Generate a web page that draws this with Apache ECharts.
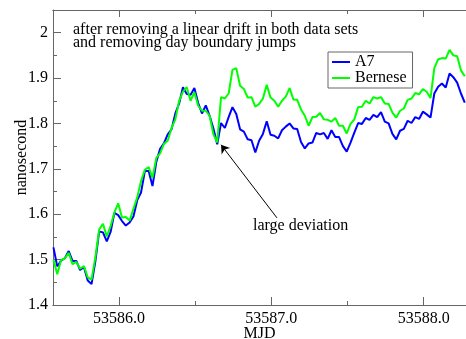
<!DOCTYPE html>
<html>
<head>
<meta charset="utf-8">
<script src="https://cdn.jsdelivr.net/npm/echarts@6/dist/echarts.min.js"></script>
<style>
  html, body { margin: 0; padding: 0; background: #fff; }
  #chart { width: 466px; height: 339px; }
</style>
</head>
<body>
<div id="chart"></div>
<script>
// sample times (MJD)
const mjd = [
  53585.57, 53585.595, 53585.62, 53585.645, 53585.67, 53585.695, 53585.72, 53585.745, 53585.77, 53585.795,
  53585.82, 53585.845, 53585.87, 53585.895, 53585.92, 53585.945, 53585.97, 53585.995, 53586.02, 53586.045,
  53586.07, 53586.095, 53586.12, 53586.145, 53586.17, 53586.195, 53586.22, 53586.245, 53586.27, 53586.295,
  53586.32, 53586.345, 53586.37, 53586.395, 53586.42, 53586.445, 53586.47, 53586.495, 53586.52, 53586.545,
  53586.57, 53586.595, 53586.62, 53586.645, 53586.67, 53586.695, 53586.72, 53586.745, 53586.77, 53586.795,
  53586.82, 53586.845, 53586.87, 53586.895, 53586.92, 53586.945, 53586.97, 53586.995, 53587.02, 53587.045,
  53587.07, 53587.095, 53587.12, 53587.145, 53587.17, 53587.195, 53587.22, 53587.245, 53587.27, 53587.295,
  53587.32, 53587.345, 53587.37, 53587.395, 53587.42, 53587.445, 53587.47, 53587.495, 53587.52, 53587.545,
  53587.57, 53587.595, 53587.62, 53587.645, 53587.67, 53587.695, 53587.72, 53587.745, 53587.77, 53587.795,
  53587.82, 53587.845, 53587.87, 53587.895, 53587.92, 53587.945, 53587.97, 53587.995, 53588.02, 53588.045,
  53588.07, 53588.095, 53588.12, 53588.145, 53588.17, 53588.195, 53588.22, 53588.245, 53588.27
]

// nanosecond, A7
const a7 = [
  1.527, 1.485, 1.498, 1.503, 1.519, 1.497, 1.497, 1.477, 1.484, 1.454,
  1.446, 1.496, 1.562, 1.560, 1.540, 1.561, 1.603, 1.598, 1.585, 1.575,
  1.582, 1.595, 1.631, 1.648, 1.695, 1.695, 1.662, 1.715, 1.744, 1.756,
  1.776, 1.787, 1.822, 1.844, 1.880, 1.865, 1.863, 1.878, 1.845, 1.822,
  1.840, 1.817, 1.789, 1.754, 1.801, 1.790, 1.814, 1.836, 1.821, 1.787,
  1.782, 1.765, 1.763, 1.736, 1.762, 1.777, 1.805, 1.775, 1.773, 1.767,
  1.785, 1.793, 1.800, 1.789, 1.788, 1.759, 1.745, 1.756, 1.758, 1.779,
  1.776, 1.779, 1.766, 1.785, 1.770, 1.770, 1.750, 1.738, 1.758, 1.780,
  1.801, 1.799, 1.812, 1.808, 1.819, 1.814, 1.825, 1.804, 1.800, 1.777,
  1.765, 1.784, 1.788, 1.806, 1.801, 1.814, 1.810, 1.826, 1.820, 1.813,
  1.866, 1.881, 1.888, 1.879, 1.910, 1.902, 1.890, 1.866, 1.846
]

// nanosecond, Bernese
const bernese = [
  1.500, 1.468, 1.499, 1.503, 1.515, 1.490, 1.495, 1.480, 1.486, 1.461,
  1.456, 1.505, 1.566, 1.579, 1.551, 1.574, 1.604, 1.624, 1.593, 1.594,
  1.586, 1.612, 1.637, 1.673, 1.698, 1.704, 1.680, 1.724, 1.734, 1.755,
  1.762, 1.790, 1.809, 1.850, 1.870, 1.880, 1.850, 1.869, 1.839, 1.828,
  1.828, 1.817, 1.776, 1.758, 1.858, 1.855, 1.866, 1.918, 1.922, 1.883,
  1.876, 1.857, 1.858, 1.837, 1.843, 1.855, 1.885, 1.857, 1.850, 1.837,
  1.850, 1.859, 1.878, 1.853, 1.852, 1.831, 1.817, 1.795, 1.814, 1.815,
  1.823, 1.809, 1.808, 1.804, 1.812, 1.795, 1.795, 1.778, 1.799, 1.809,
  1.836, 1.837, 1.850, 1.844, 1.858, 1.855, 1.858, 1.844, 1.843, 1.824,
  1.813, 1.828, 1.833, 1.852, 1.855, 1.867, 1.864, 1.876, 1.870, 1.856,
  1.922, 1.941, 1.944, 1.943, 1.962, 1.950, 1.948, 1.917, 1.904
]

const xTicks = [53586, 53587, 53588]
const xMinorTicks = [53586.5, 53587.5]
const yTicks = [1.4, 1.5, 1.6, 1.7, 1.8, 1.9, 2.0]
const yMinorTicks = [1.45, 1.55, 1.65, 1.75, 1.85, 1.95]

// arrow for "large deviation": from label to the jump
const arrowFrom = [53587.037, 1.592]
const arrowTo = [53586.67, 1.753]

const FONT = 'Liberation Serif'
const AXIS_COLOR = '#666'
const X_MIN = 53585.567
const X_MAX = 53588.278

function xAx(pos, ticks, len, labels) {
  return {
    type: 'value', position: pos, min: X_MIN, max: X_MAX,
    axisLine: { show: labels !== null, lineStyle: { color: AXIS_COLOR, width: 1 } },
    axisTick: { inside: true, length: len, customValues: ticks, lineStyle: { color: AXIS_COLOR } },
    axisLabel: labels ? {
      customValues: ticks, margin: 6, color: '#000', fontFamily: FONT, fontSize: 16,
      formatter: v => v.toFixed(1)
    } : { show: false },
    splitLine: { show: false }
  }
}

function yAx(ticks, len, labels) {
  return {
    type: 'value', position: 'left', min: 1.4, max: 2.05,
    axisLine: { show: labels, lineStyle: { color: AXIS_COLOR, width: 1 } },
    axisTick: { inside: true, length: len, customValues: ticks, lineStyle: { color: AXIS_COLOR } },
    axisLabel: labels ? {
      customValues: ticks, margin: 5, color: '#000', fontFamily: FONT, fontSize: 16,
      formatter: v => (Math.round(v * 10) / 10).toString()
    } : { show: false },
    splitLine: { show: false }
  }
}

const chart = echarts.init(document.getElementById('chart'), null, { renderer: 'canvas' })

const bottomMajor = xAx('bottom', xTicks, 8, true)
bottomMajor.name = 'MJD'
bottomMajor.nameLocation = 'middle'
bottomMajor.nameGap = 21
bottomMajor.nameMoveOverlap = false
bottomMajor.nameTextStyle = { color: '#000', fontFamily: FONT, fontSize: 16 }

const leftMajor = yAx(yTicks, 8, true)
leftMajor.name = 'nanosecond'
leftMajor.nameLocation = 'middle'
leftMajor.nameGap = 23
leftMajor.nameMoveOverlap = false
leftMajor.nameTextStyle = { color: '#000', fontFamily: FONT, fontSize: 16 }

const option = {
  animation: false,
  backgroundColor: '#fff',
  grid: { left: 53, right: 0, top: 10, bottom: 34, outerBoundsMode: 'none' },
  xAxis: [
    bottomMajor,
    xAx('bottom', xMinorTicks, 4, false),
    xAx('top', xTicks, 7, false),
    xAx('top', xMinorTicks, 4, false)
  ],
  yAxis: [
    leftMajor,
    yAx(yMinorTicks, 4, false)
  ],
  legend: {
    orient: 'vertical', left: 328, top: 52,
    padding: [2, 6, 2, 4], itemGap: 0,
    itemWidth: 18, itemHeight: 2,
    borderColor: AXIS_COLOR, borderWidth: 1,
    textStyle: { color: '#000', fontFamily: FONT, fontSize: 16, lineHeight: 16 },
    data: [{ name: 'A7', icon: 'rect' }, { name: 'Bernese', icon: 'rect' }]
  },
  graphic: [
    {
      type: 'text', left: 73, top: 22,
      style: {
        text: 'after removing a linear drift in both data sets\nand removing day boundary jumps',
        font: '16px "Liberation Serif"', fill: '#000', lineHeight: 12.5
      }
    },
    {
      type: 'text', left: 253, top: 218,
      style: { text: 'large deviation', font: '16px "Liberation Serif"', fill: '#000' }
    }
  ],
  series: [
    {
      name: 'A7', type: 'line', showSymbol: false, color: '#0000ff',
      lineStyle: { width: 2 },
      data: mjd.map((x, i) => [x, a7[i]])
    },
    {
      name: 'Bernese', type: 'line', showSymbol: false, color: '#00ff00',
      lineStyle: { width: 2 },
      data: mjd.map((x, i) => [x, bernese[i]]),
      markLine: {
        silent: true, symbol: ['none', 'arrow'], symbolSize: 8,
        label: { show: false },
        lineStyle: { color: '#000', width: 1, type: 'solid' },
        data: [[{ coord: arrowFrom }, { coord: arrowTo }]]
      }
    }
  ]
}

chart.setOption(option)
</script>
</body>
</html>
